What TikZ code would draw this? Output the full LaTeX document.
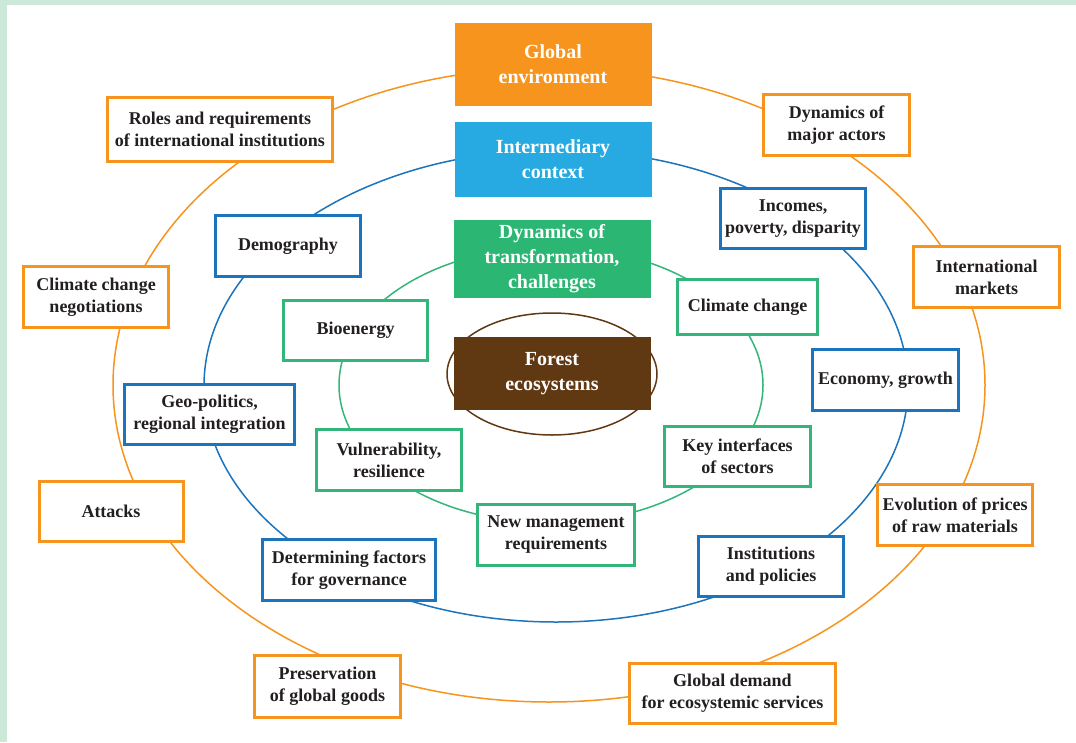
\documentclass[tikz,border=0pt]{standalone}
\usepackage{fontspec}
\setmainfont{Liberation Serif}
\usepackage{xcolor}
\usepackage{tikz}

\definecolor{ringorange}{HTML}{F7941D}
\definecolor{ringblue}{HTML}{1C75BC}
\definecolor{ringgreen}{HTML}{33B679}
\definecolor{fillcyan}{HTML}{27AAE1}
\definecolor{fillgreen}{HTML}{2BB673}
\definecolor{forestbrown}{HTML}{603913}
\definecolor{paleback}{HTML}{CCE8D8}
\definecolor{darktext}{HTML}{231F20}

\begin{document}
\begin{tikzpicture}[x=1pt, y=-1pt]
        % Define styles
        \tikzstyle{box} = [rectangle, fill=white, align=center, inner sep=0pt, text=darktext, font=\fontsize{18}{22}\selectfont\bfseries]
        \tikzstyle{outer} = [box, draw=ringorange, line width=3pt]
        \tikzstyle{middle} = [box, draw=ringblue, line width=3pt]
        \tikzstyle{inner} = [box, draw=ringgreen, line width=2.5pt]
        \tikzstyle{core} = [rectangle, align=center, inner sep=0pt, text=white, minimum width=197pt, font=\fontsize{20}{25}\selectfont\bfseries]
        \tikzstyle{ring} = [line width=1.5pt]

        % Background
        \fill [paleback] (0,0) rectangle (1076,742);
        \fill [white] (7,5) rectangle (1076,742);
        \useasboundingbox (0,0) rectangle (1076,742);

        % Rings
        \draw [ring, ringorange] (549,385) ellipse [x radius=436pt, y radius=317pt];
        \draw [ring, ringblue] (556,386) ellipse [x radius=352pt, y radius=236pt];
        \draw [ring, ringgreen] (551,385) ellipse [x radius=212pt, y radius=138pt];
        \draw [ring, forestbrown] (552,374) ellipse [x radius=105pt, y radius=61pt];

        % Centre column
        \node [core, fill=ringorange, minimum height=83pt] (global) at (553,64.5) {Global\\environment};
        \node [core, fill=fillcyan, minimum height=75pt] (context) at (553,159.5) {Intermediary\\context};
        \node [core, fill=fillgreen, minimum height=78pt] (dynamics) at (552,259) {Dynamics of\\transformation,\\challenges};
        \node [core, fill=forestbrown, minimum height=73pt] (forest) at (552,373.5) {Forest\\ecosystems};

        % Outer ring
        \node [outer, minimum width=225pt, minimum height=64pt] (roles) at (220,129.5) {Roles and requirements\\of international institutions};
        \node [outer, minimum width=146pt, minimum height=61pt] (actors) at (836.5,125) {Dynamics of\\major actors};
        \node [outer, minimum width=146pt, minimum height=61pt] (markets) at (986.5,277) {International\\markets};
        \node [outer, minimum width=145pt, minimum height=61pt] (negotiations) at (96,297) {Climate change\\negotiations};
        \node [outer, minimum width=144pt, minimum height=60pt] (attacks) at (111,511.5) {Attacks};
        \node [outer, minimum width=155pt, minimum height=61pt] (prices) at (955,515) {Evolution of prices\\of raw materials};
        \node [outer, minimum width=146pt, minimum height=62pt] (goods) at (327.5,686.5) {Preservation\\of global goods};
        \node [outer, minimum width=206pt, minimum height=60pt] (demand) at (732.5,693.5) {Global demand\\for ecosystemic services};

        % Middle ring
        \node [middle, minimum width=145pt, minimum height=61pt] (demography) at (288,246) {Demography};
        \node [middle, minimum width=145pt, minimum height=60pt] (incomes) at (793,218.5) {Incomes,\\poverty, disparity};
        \node [middle, minimum width=170pt, minimum height=60pt] (geopolitics) at (209.5,414.5) {Geo-politics,\\regional integration};
        \node [middle, minimum width=146pt, minimum height=61pt] (economy) at (885.5,380) {Economy, growth};
        \node [middle, minimum width=173pt, minimum height=61pt] (governance) at (349,570) {Determining factors\\for governance};
        \node [middle, minimum width=145pt, minimum height=60pt] (institutions) at (771,566.5) {Institutions\\and policies};

        % Inner ring
        \node [inner, minimum width=144pt, minimum height=60pt] (bioenergy) at (355.5,330.5) {Bioenergy};
        \node [inner, minimum width=140pt, minimum height=55pt] (climate) at (747.5,307) {Climate change};
        \node [inner, minimum width=145pt, minimum height=61pt] (vulnerability) at (389,460) {Vulnerability,\\resilience};
        \node [inner, minimum width=146pt, minimum height=60pt] (interfaces) at (737.5,456.5) {Key interfaces\\of sectors};
        \node [inner, minimum width=157pt, minimum height=61pt] (management) at (556,535) {New management\\requirements};
    \end{tikzpicture}
\end{document}
